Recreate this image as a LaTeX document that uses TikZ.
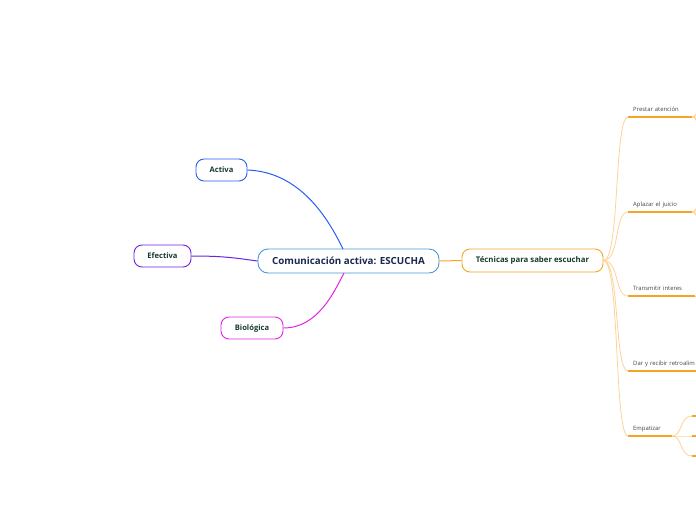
\documentclass[tikz,border=0pt]{standalone}
\usepackage{fontspec}
\setmainfont{Open Sans}
\usetikzlibrary{positioning}
\definecolor{rootblue}{RGB}{72,152,214}
\definecolor{rootink}{RGB}{26,40,78}
\definecolor{nodeink}{RGB}{22,58,46}
\definecolor{linkblue}{RGB}{40,92,245}
\definecolor{linkpurple}{RGB}{108,34,226}
\definecolor{linkmagenta}{RGB}{228,36,228}
\definecolor{branchorange}{RGB}{245,164,40}
\definecolor{fanorange}{RGB}{253,210,150}
\definecolor{leafgray}{RGB}{70,70,70}

\begin{document}
\begin{tikzpicture}[x=1pt, y=-1pt,
  topic/.style={draw, rectangle, rounded corners=8pt, line width=0.9pt, fill=white, inner sep=0pt, minimum height=22pt, font=\bfseries\fontsize{7.6}{9}\selectfont, text=nodeink},
  leaf/.style={anchor=south west, inner xsep=5pt, inner ysep=4pt, text height=4pt, text depth=1.5pt, align=left, font=\fontsize{5.9}{7}\selectfont, text=leafgray},
  link/.style={line width=1pt},
  fan/.style={draw=fanorange, line width=0.8pt},
  under/.style={draw=branchorange, line width=1.4pt}
]
\useasboundingbox (0,0) rectangle (696,520);
\clip (0,0) rectangle (696,520);

% central topic
\node[topic, draw=rootblue, text=rootink, minimum width=181pt, minimum height=24pt, rounded corners=10pt, font=\bfseries\fontsize{9.8}{11}\selectfont] (root) at (348.5,261) {Comunicación activa: ESCUCHA};

% left side
\node[topic, draw=linkblue, minimum width=51pt] (activa) at (221.5,170) {Activa};
\node[topic, draw=linkpurple, minimum width=57pt] (efectiva) at (162.5,256) {Efectiva};
\node[topic, draw=linkmagenta, minimum width=62pt] (biologica) at (252,328) {Biológica};

\draw[link, linkblue] (activa.east) .. controls (300,172) and (328,218) .. (343,249);
\draw[link, linkpurple] (efectiva.east) .. controls (225,256) and (235,258) .. (root.west);
\draw[link, linkmagenta] (biologica.east) .. controls (318,328) and (334,292) .. (344,273);

% right side
\node[topic, draw=branchorange, minimum width=141pt, minimum height=23pt, font=\bfseries\fontsize{7.8}{9}\selectfont] (tecnicas) at (532.5,260.5) {Técnicas para saber escuchar};
\draw[link, branchorange] (root.east) -- (tecnicas.west);

\node[leaf, text width=54pt] (prestar) at (628,117) {Prestar atención};
\node[leaf, text width=54pt] (aplazar) at (628,212) {Aplazar el juicio};
\node[leaf, text width=57pt] (transmitir) at (628,296) {Transmitir interes};
\node[leaf, text width=80pt] (dar) at (628,371) {Dar y recibir retroalim};
\node[leaf, text width=34pt] (empatizar) at (628,436) {Empatizar};

\foreach \leafname in {prestar,aplazar,transmitir,dar,empatizar}{
  \draw[fan] (tecnicas.east) .. controls (620,261) and (614,0|-\leafname.south west) .. (\leafname.south west);
  \draw[under] (\leafname.south west) -- (\leafname.south east);
}

% sub-branches running off the page
\coordinate (pa1) at (712,98);
\coordinate (pa2) at (712,110);
\coordinate (pa3) at (712,124);
\coordinate (pa4) at (712,136);
\foreach \tip in {pa1,pa2,pa3,pa4}
  \draw[fan] (prestar.south east) .. controls (698,117) and (698,0|-\tip) .. (\tip);
\coordinate (ap1) at (712,192);
\coordinate (ap2) at (712,204);
\coordinate (ap3) at (712,220);
\coordinate (ap4) at (712,232);
\foreach \tip in {ap1,ap2,ap3,ap4}
  \draw[fan] (aplazar.south east) .. controls (698,212) and (698,0|-\tip) .. (\tip);
\coordinate (ti1) at (712,296);
\draw[fan] (transmitir.south east) -- (ti1);

\coordinate (em1) at (692,416);
\coordinate (em2) at (692,436);
\coordinate (em3) at (692,456);
\foreach \tip in {em1,em2,em3}{
  \draw[fan] (empatizar.south east) .. controls (682,436) and (680,0|-\tip) .. (\tip);
  \draw[under] (\tip) -- ++(8,0);
}
\end{tikzpicture}
\end{document}
